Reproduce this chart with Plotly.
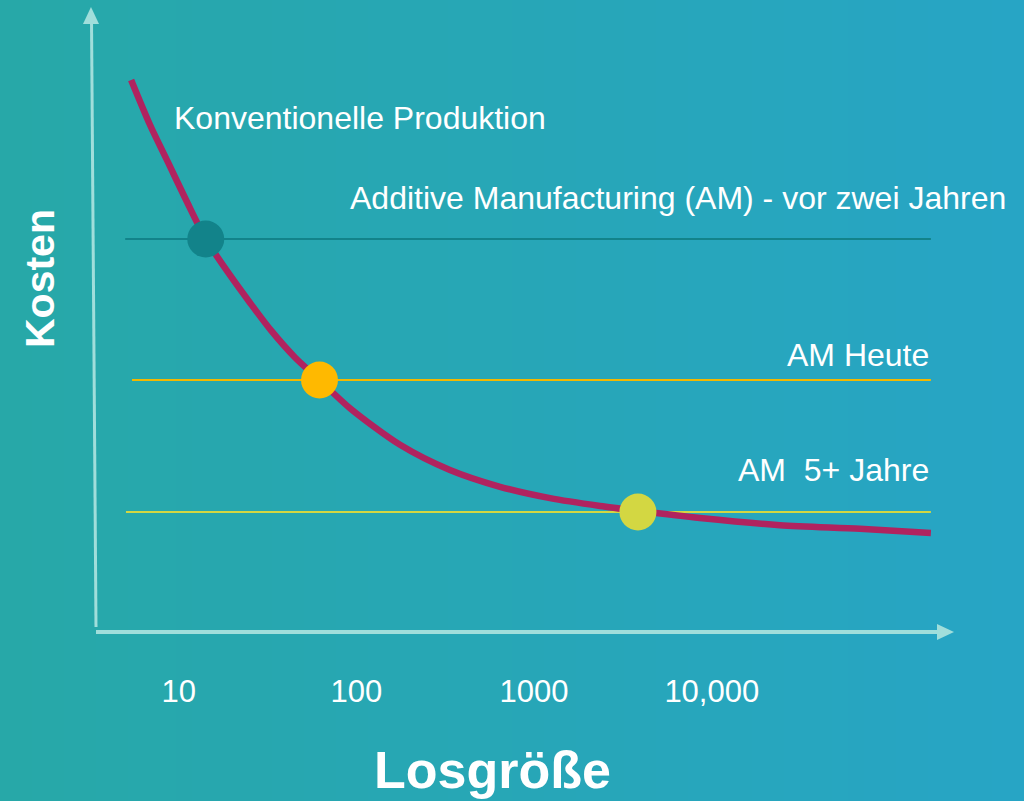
import plotly.graph_objects as go

# ---- data ----
lot_size = [5.4, 6.9, 8.7, 11, 14.2, 19.4, 25, 33, 45, 62, 92, 176, 336, 643,
            1230, 2350, 3840, 8580, 24200, 68200, 171000]
cost_conv = [92.0, 84.5, 78.3, 72.0, 65.5, 59.5, 55.0, 50.3, 45.8, 42.0, 37.3,
             31.2, 27.0, 24.2, 22.3, 21.0, 20.2, 19.0, 17.8, 17.2, 16.5]

am_labels = ["Additive Manufacturing (AM) - vor zwei Jahren", "AM Heute", "AM\u00a0 5+ Jahre"]
am_cost = [65.5, 42.0, 20.0]
am_line_start = [5.0, 5.46, 5.05]
am_line_end = [171000, 171000, 171000]
break_even = [14.2, 62, 3840]
am_colors = ["#12838a", "#ffb900", "#d3d742"]
am_line_colors = ["#12838a", "#f2b800", "#d3d742"]

tick_vals = [10, 100, 1000, 10000]
tick_text = ["10", "100", "1000", "10,000"]

W, H = 1024, 801
def px(x):
    return x / W
def py(y):
    return 1 - y / H

FONT = "Liberation Sans, Arial, sans-serif"
AXIS_COL = "#a0dedb"

fig = go.Figure()

for i in range(3):
    fig.add_trace(go.Scatter(
        x=[am_line_start[i], am_line_end[i]], y=[am_cost[i], am_cost[i]],
        mode="lines", line=dict(color=am_line_colors[i], width=2),
        hoverinfo="skip", showlegend=False))

fig.add_trace(go.Scatter(
    x=lot_size, y=cost_conv, mode="lines",
    line=dict(color="#b0235f", width=6.5, shape="spline", smoothing=0.8),
    showlegend=False))

fig.add_trace(go.Scatter(
    x=break_even, y=am_cost, mode="markers",
    marker=dict(size=37, color=am_colors, line=dict(width=0)),
    showlegend=False))

# background gradient
shapes = []
N = 64
c0 = (39, 168, 168)
c1 = (39, 165, 197)
for k in range(N):
    t = k / (N - 1)
    c = tuple(round(c0[j] + (c1[j] - c0[j]) * t) for j in range(3))
    shapes.append(dict(type="rect", xref="paper", yref="paper",
                       x0=k / N, x1=(k + 1) / N + 0.002, y0=0, y1=1,
                       fillcolor="rgb(%d,%d,%d)" % c, line=dict(width=0),
                       layer="below"))

# axis arrows
shapes.append(dict(type="line", xref="paper", yref="paper",
                   x0=px(96), y0=py(627), x1=px(91.5), y1=py(20),
                   line=dict(color=AXIS_COL, width=3), layer="below"))
shapes.append(dict(type="path", xref="paper", yref="paper",
                   path="M %f,%f L %f,%f L %f,%f Z" % (px(91), py(7), px(83), py(24), px(99), py(24)),
                   fillcolor=AXIS_COL, line=dict(width=0), layer="below"))
shapes.append(dict(type="line", xref="paper", yref="paper",
                   x0=px(96), y0=py(632), x1=px(940), y1=py(632),
                   line=dict(color=AXIS_COL, width=4), layer="below"))
shapes.append(dict(type="path", xref="paper", yref="paper",
                   path="M %f,%f L %f,%f L %f,%f Z" % (px(954), py(632), px(937), py(624), px(937), py(640)),
                   fillcolor=AXIS_COL, line=dict(width=0), layer="below"))

annotations = [
    dict(text="Konventionelle Produktion", x=px(172), y=py(118), xanchor="left", yanchor="middle",
         font=dict(size=32, color="white", family=FONT)),
    dict(text=am_labels[0], x=px(348), y=py(198), xanchor="left", yanchor="middle",
         font=dict(size=32, color="white", family=FONT)),
    dict(text=am_labels[1], x=px(931), y=py(355), xanchor="right", yanchor="middle",
         font=dict(size=32, color="white", family=FONT)),
    dict(text=am_labels[2], x=px(931), y=py(470), xanchor="right", yanchor="middle",
         font=dict(size=32, color="white", family=FONT)),
    dict(text="<b>Kosten</b>", x=px(40), y=py(279), xanchor="center", yanchor="middle",
         textangle=-90, font=dict(size=41, color="white", family=FONT)),
    dict(text="<b>Losgröße</b>", x=px(492), y=py(770), xanchor="center", yanchor="middle",
         font=dict(size=52, color="white", family=FONT)),
]
for a in annotations:
    a.update(xref="paper", yref="paper", showarrow=False)

fig.update_layout(
    width=W, height=H,
    margin=dict(l=0, r=0, t=0, b=0),
    paper_bgcolor="rgb(39,167,182)",
    plot_bgcolor="rgba(0,0,0,0)",
    shapes=shapes,
    annotations=annotations,
    showlegend=False,
    xaxis=dict(type="log", range=[-0.0056, 5.757], showgrid=False, zeroline=False,
               showline=False, tickvals=tick_vals, ticktext=tick_text,
               ticks="outside", ticklen=32, tickcolor="rgba(0,0,0,0)",
               tickfont=dict(size=31, color="white", family=FONT),
               anchor="free", position=1 - 632 / H, fixedrange=True),
    yaxis=dict(range=[-28.17, 105.33], showgrid=False, zeroline=False,
               showline=False, showticklabels=False, ticks="", fixedrange=True),
)

fig.write_html("out.html", config={"displayModeBar": False},
               post_script="document.body.style.margin='0';document.body.style.overflow='hidden';")
